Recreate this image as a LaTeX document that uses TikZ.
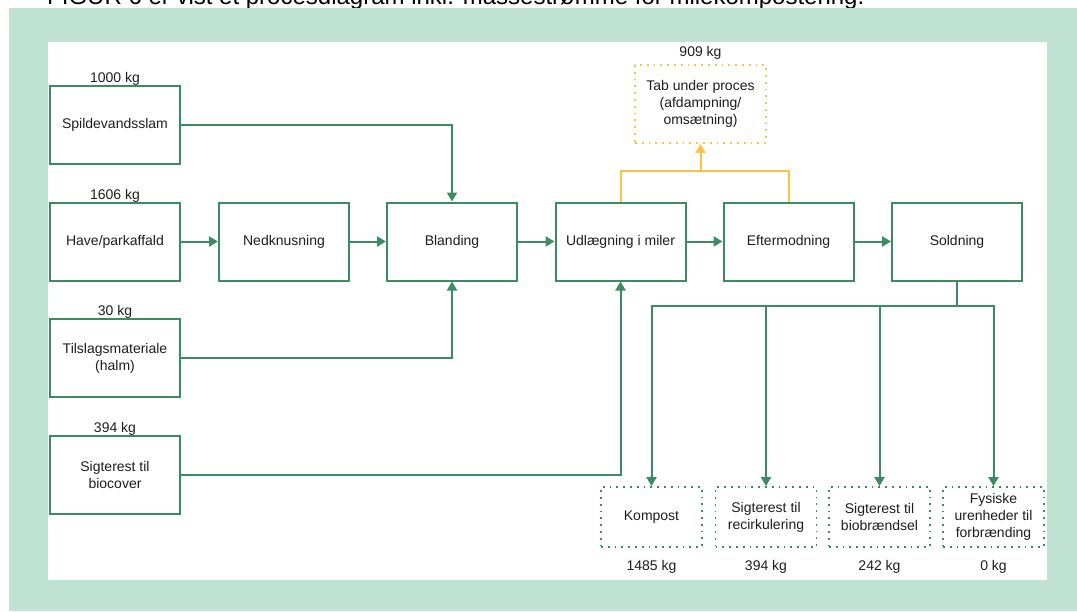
\documentclass[tikz,border=0pt]{standalone}
\usepackage{fontspec}
\setmainfont{Liberation Sans}
\usetikzlibrary{arrows.meta}
\definecolor{mint}{HTML}{C0E2D3}
\definecolor{procgreen}{HTML}{3D8B65}
\definecolor{lossyellow}{HTML}{F8C443}
\definecolor{txt}{HTML}{1E1E1E}
\begin{document}
\begin{tikzpicture}[x=1pt,y=-1pt,
  every node/.style={text=txt, font=\fontsize{14}{17}\selectfont},
  procbox/.style={draw=procgreen, line width=2pt, minimum width=130pt, minimum height=78pt, inner sep=2pt, align=center},
  outbox/.style={draw=procgreen, line width=1.8pt, dash pattern=on 1.8pt off 5pt, minimum width=101pt, minimum height=60pt, inner sep=2pt, align=center},
  lossbox/.style={draw=lossyellow, line width=1.8pt, dash pattern=on 1.8pt off 5pt, minimum width=131pt, minimum height=78pt, inner sep=2pt, align=center},
  kg/.style={inner sep=1pt},
  flow/.style={draw=procgreen, line width=2pt, -{Triangle[length=9pt,width=10pt]}},
  plainline/.style={draw=procgreen, line width=2pt},
  lossflow/.style={draw=lossyellow, line width=2pt}
]
\useasboundingbox (0,0) rectangle (1077,611);
\clip (0,0) rectangle (1077,611);

% page background, framed panel and running text
\fill[white] (0,0) rectangle (1077,611);
\node[anchor=base west, inner sep=0pt, text=black, font=\fontsize{24}{28}\selectfont] (caption) at (47,4)
  {FIGUR 6 er vist et procesdiagram inkl. massestrømme for milekompostering.};
\fill[mint] (9,8) rectangle (1077,611);
\fill[white] (48,42) rectangle (1047,580);

% inputs
\node[procbox] (sp) at (115,125) {Spildevandsslam};
\node[procbox] (hp) at (115,241.5) {Have/parkaffald};
\node[procbox] (ti) at (115,358) {Tilslagsmateriale\\(halm)};
\node[procbox] (sb) at (115,475) {Sigterest til\\biocover};
\node[kg, anchor=south] (sp-kg) at ([yshift=-2pt]sp.north) {1000 kg};
\node[kg, anchor=south] (hp-kg) at ([yshift=-2pt]hp.north) {1606 kg};
\node[kg, anchor=south] (ti-kg) at ([yshift=-2pt]ti.north) {30 kg};
\node[kg, anchor=south] (sb-kg) at ([yshift=-2pt]sb.north) {394 kg};

% process chain
\node[procbox] (ne) at (284,241.5) {Nedknusning};
\node[procbox] (bl) at (452,241.5) {Blanding};
\node[procbox] (ud) at (620.5,241.5) {Udlægning i miler};
\node[procbox] (ef) at (788.5,241.5) {Eftermodning};
\node[procbox] (so) at (957,241.5) {Soldning};

% process loss
\node[lossbox] (tab) at (700.5,104) {Tab under proces\\(afdampning/\\omsætning)};
\node[kg, anchor=south] (tab-kg) at ([yshift=3pt]tab.north) {909 kg};
\coordinate (lossjoin) at (700.5,171);

% outputs
\node[outbox] (o1) at (651.5,517) {Kompost};
\node[outbox] (o2) at (766,517) {Sigterest til\\recirkulering};
\node[outbox] (o3) at (879.5,517) {Sigterest til\\biobrændsel};
\node[outbox] (o4) at (993.5,517) {Fysiske\\urenheder til\\forbrænding};
\node[kg, anchor=north] (o1-kg) at ([yshift=-11pt]o1.south) {1485 kg};
\node[kg, anchor=north] (o2-kg) at ([yshift=-11pt]o2.south) {394 kg};
\node[kg, anchor=north] (o3-kg) at ([yshift=-11pt]o3.south) {242 kg};
\node[kg, anchor=north] (o4-kg) at ([yshift=-11pt]o4.south) {0 kg};
\coordinate (split) at (957,305.5);

% connectors
\draw[flow] (sp.east) -| (bl.north);
\draw[flow] (hp) -- (ne);
\draw[flow] (ne) -- (bl);
\draw[flow] (bl) -- (ud);
\draw[flow] (ud) -- (ef);
\draw[flow] (ef) -- (so);
\draw[flow] (ti.east) -| (bl.south);
\draw[flow] (sb.east) -| (ud.south);

\draw[lossflow] (ud.north) |- (lossjoin) -| (ef.north);
\draw[lossflow, -{Triangle[length=9pt,width=10pt]}] (lossjoin) -- (tab.south);

\draw[plainline] (so.south) -- (split);
\draw[flow] (split) -| (o1.north);
\draw[flow] (split) -| (o2.north);
\draw[flow] (split) -| (o3.north);
\draw[flow] (split) -| (o4.north);
\end{tikzpicture}
\end{document}
